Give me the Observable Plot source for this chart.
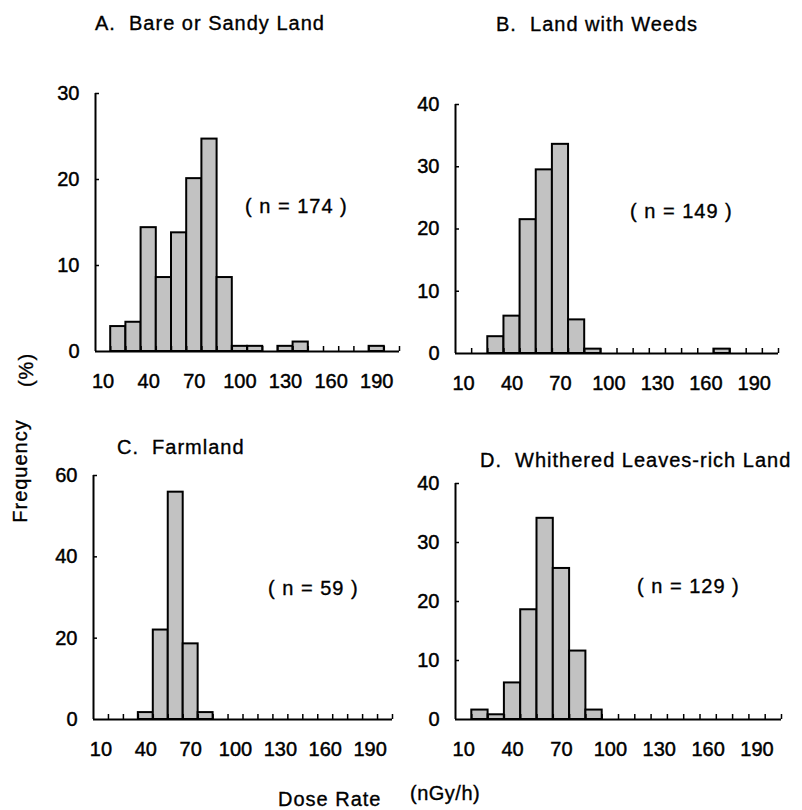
<!DOCTYPE html>
<html><head><meta charset="utf-8">
<script src="https://cdn.jsdelivr.net/npm/d3@7"></script>
<script src="https://cdn.jsdelivr.net/npm/@observablehq/plot@0.6"></script>
<style>
body{margin:0;background:#fff;}
#root{position:relative;width:802px;height:810px;overflow:hidden;font-family:"Liberation Sans",Arial,sans-serif;color:#000;background:#fff;}
.lbl{position:absolute;white-space:pre;font-size:20px;line-height:20px;letter-spacing:1px;-webkit-text-stroke:0.35px #000;}
.rot{position:absolute;white-space:pre;font-size:20px;line-height:20px;letter-spacing:1px;-webkit-text-stroke:0.35px #000;transform:translate(-50%,-50%) rotate(-90deg);}
#root svg{position:absolute;left:0;top:0;}
#root svg text{stroke:#000;stroke-width:0.45px;}
</style></head><body><div id="root"></div>
<script>
// ---- data ----
const bins = [10,20,30,40,50,60,70,80,90,100,110,120,130,140,150,160,170,180,190,200];
const labelBins = [10,40,70,100,130,160,190];
const freqA = [0,2.9,3.4,14.4,8.6,13.8,20.1,24.7,8.6,0.6,0.6,0,0.6,1.1,0,0,0,0,0.6,0];
const freqB = [0,0,2.7,6.0,21.5,29.5,33.6,5.4,0.7,0,0,0,0,0,0,0,0.7,0,0,0];
const freqC = [0,0,0,1.7,22.0,55.9,18.6,1.7,0,0,0,0,0,0,0,0,0,0,0,0];
const freqD = [0,1.6,0.8,6.2,18.6,34.1,25.6,11.6,1.6,0,0,0,0,0,0,0,0,0,0,0];
const yTicksA = [0,10,20,30];
const yTicksB = [0,10,20,30,40];
const yTicksC = [0,20,40,60];
const yTicksD = [0,10,20,30,40];
const titles = ["A.  Bare or Sandy Land","B.  Land with Weeds","C.  Farmland","D.  Whithered Leaves-rich Land"];
const nLabels = ["( n = 174 )","( n = 149 )","( n = 59 )","( n = 129 )"];
const yLabel = "Frequency";
const yUnit = "(%)";
const xLabel = "Dose Rate";
const xUnit = "(nGy/h)";

// ---- layout ----
const W = 802, H = 810;
const half = (bins[1]-bins[0])/2;
const font = '"Liberation Sans", Arial, sans-serif';
const root = document.getElementById("root");

function panel(freq, yTicks, box) {
  const data = bins.map((b,i)=>({bin:b, v:freq[i]})).filter(d=>d.v>0);
  const ymax = yTicks[yTicks.length-1];
  const x0 = bins[0]-half;
  return Plot.plot({
    width: W, height: H,
    marginLeft: box.left, marginRight: W-box.right, marginTop: box.top, marginBottom: H-box.bottom,
    x: {type:"linear", domain:[x0, bins[bins.length-1]+half]},
    y: {type:"linear", domain:[0, ymax]},
    style: {background:"transparent", fontSize:"20px", fontFamily:font, color:"#000", overflow:"visible"},
    marks: [
      Plot.rectY(data, {x1: d=>d.bin-half, x2: d=>d.bin+half, y: "v", fill:"#c2c2c2", stroke:"#000", strokeWidth:2}),
      Plot.ruleY([0], {stroke:"#000", strokeWidth:2}),
      Plot.ruleX([x0], {y1:0, y2:ymax, stroke:"#000", strokeWidth:2}),
      Plot.ruleY(yTicks.filter(t=>t>0), {y: d=>d, x1:x0, x2:x0, insetRight:-4, stroke:"#000", strokeWidth:1.5}),
      Plot.ruleX(bins.map(b=>b+half), {x: d=>d, y1:0, y2:0, insetBottom:5, stroke:"#000", strokeWidth:1.5}),
      Plot.axisY({ticks:yTicks, tickSize:0, tickPadding:16, label:null, tickFormat:d=>String(d), fill:"#000"}),
      Plot.axisX({ticks:labelBins, tickSize:0, tickPadding:22, label:null, tickFormat:d=>String(d), fill:"#000"})
    ]
  });
}

const panels = [
  {freq:freqA, yTicks:yTicksA, box:{left:95,right:399,top:93,bottom:351}, title:[95,13], n:[245,196]},
  {freq:freqB, yTicks:yTicksB, box:{left:455,right:778,top:104,bottom:353}, title:[496,14], n:[630,201]},
  {freq:freqC, yTicks:yTicksC, box:{left:93,right:392,top:475,bottom:719}, title:[117,437], n:[268,578]},
  {freq:freqD, yTicks:yTicksD, box:{left:455,right:781,top:483,bottom:719}, title:[480,450], n:[637,576]}
];

function addText(txt, left, top, cls) {
  const d = document.createElement("div");
  d.className = cls || "lbl";
  d.textContent = txt;
  d.style.left = left + "px";
  d.style.top = top + "px";
  root.appendChild(d);
  return d;
}

panels.forEach((p,i)=>{
  root.appendChild(panel(p.freq, p.yTicks, p.box));
  addText(titles[i], p.title[0], p.title[1]);
  addText(nLabels[i], p.n[0], p.n[1]);
});
addText(yLabel, 20, 471, "rot");
addText(yUnit, 26, 370, "rot");
addText(xLabel, 278, 789);
const u = addText(xUnit, 410, 783);
u.style.letterSpacing = "0.5px";
</script></body></html>
